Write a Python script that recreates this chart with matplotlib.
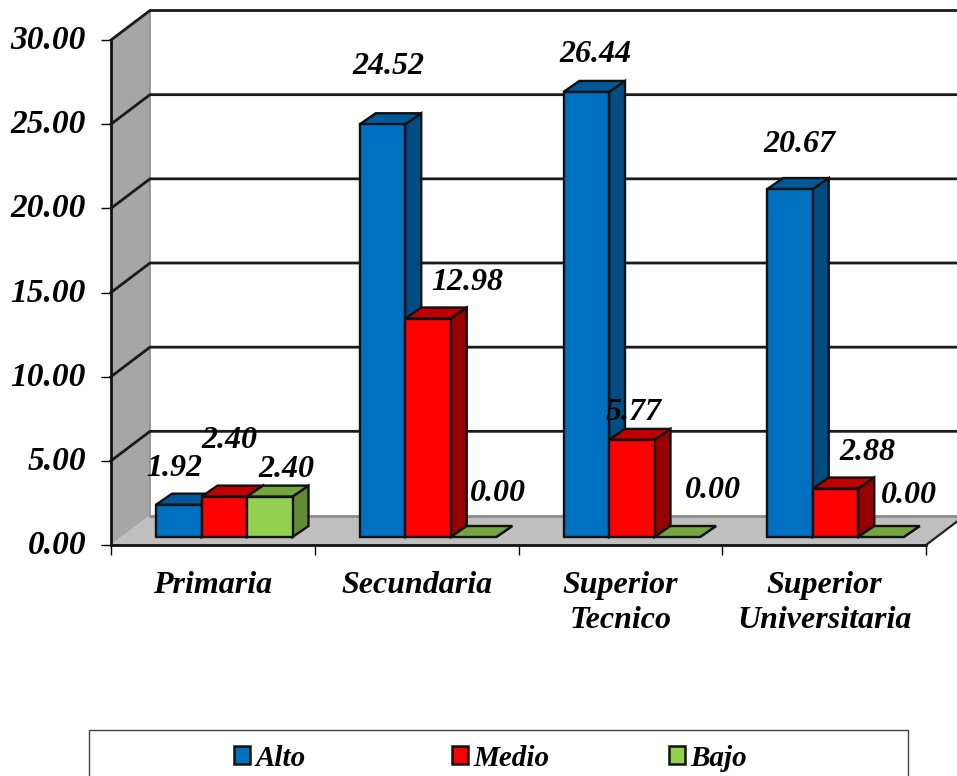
import matplotlib
matplotlib.use('Agg')
import matplotlib.pyplot as plt
from matplotlib.patches import Polygon, Rectangle, Patch
from matplotlib.transforms import ScaledTranslation

categorias = ['Primaria', 'Secundaria', 'Superior\nTecnico', 'Superior\nUniversitaria']
alto = [1.92, 24.52, 26.44, 20.67]
medio = [2.40, 12.98, 5.77, 2.88]
bajo = [2.40, 0.00, 0.00, 0.00]
y_ticks = [0, 5, 10, 15, 20, 25, 30]
nombres = ['Alto', 'Medio', 'Bajo']

# centre of every value label in pixels, same order as the series
pos_alto = [(174, 468), (388, 66), (595, 54), (799, 145)]
pos_medio = [(229, 441), (467, 283), (634, 412), (867, 453)]
pos_bajo = [(286, 470), (498, 494), (713, 490), (909, 496)]
pos_leyenda = [222, 440, 657]

W, H = 957, 776
X0, X1 = 111, 926   # front edge of the floor
Y0, Y30 = 545, 40

plt.rcParams['font.family'] = ['Liberation Serif', 'DejaVu Serif']
plt.rcParams['font.weight'] = 'bold'
plt.rcParams['font.style'] = 'italic'

fig = plt.figure(figsize=(W / 100, H / 100), dpi=100)
ax = fig.add_axes([X0 / W, 1 - Y0 / H, (X1 - X0) / W, (Y0 - Y30) / H])
ax.set_xlim(0, 4)
ax.set_ylim(0, 30)

px_x = 4 / (X1 - X0)      # category units per pixel
px_y = 30 / (Y0 - Y30)    # value units per pixel

# chart box depth
box_dx = 39 * px_x
box_dy = 29.5 * px_y
x_end = (W + 2 - X0) * px_x

# walls and floor
ax.add_patch(Polygon([(0, 0), (box_dx, box_dy), (box_dx, 30 + box_dy), (0, 30)],
                     fc='#a6a6a6', ec='none', clip_on=False, zorder=1))
ax.add_patch(Polygon([(0, 0), (4, 0), (4 + box_dx, box_dy), (box_dx, box_dy)],
                     fc='#bfbfbf', ec='none', clip_on=False, zorder=1))
ax.plot([box_dx, box_dx], [box_dy, 30 + box_dy], color='#8c8c8c', lw=1.2, clip_on=False, zorder=2)
ax.plot([box_dx, x_end], [box_dy, box_dy], color='#8c8c8c', lw=2, clip_on=False, zorder=2)
ax.plot([4, 4 + box_dx], [0, box_dy], color='#222222', lw=1.6, clip_on=False, zorder=2)

for t in y_ticks[1:]:
    ax.plot([0, box_dx, x_end], [t, t + box_dy, t + box_dy], color='#1a1a1a', lw=2,
            clip_on=False, zorder=2, solid_joinstyle='miter')

# bars
bar_ini = 45 * px_x
bar_w = 45.5 * px_x
base = 8 * px_y
dep_x = 16 * px_x
dep_y = 11 * px_y

series = [(alto, '#0070c0', '#005a9a', '#004d84'),
          (medio, '#ff0000', '#c00000', '#990000'),
          (bajo, '#92d050', '#74a63f', '#638a35')]

z = 3
for i in range(len(categorias)):
    for j, (vals, front, top, side) in enumerate(series):
        v = vals[i]
        x = i + bar_ini + j * bar_w
        y = base + v
        kw = dict(ec='#111111', lw=1.7, clip_on=False, zorder=z, joinstyle='miter')
        ax.add_patch(Polygon([(x + bar_w, base), (x + bar_w + dep_x, base + dep_y),
                              (x + bar_w + dep_x, y + dep_y), (x + bar_w, y)], fc=side, **kw))
        ax.add_patch(Polygon([(x, y), (x + bar_w, y), (x + bar_w + dep_x, y + dep_y),
                              (x + dep_x, y + dep_y)], fc=top, **kw))
        if v > 0:
            ax.bar(x, v, bar_w, bottom=base, align='edge', color=front, edgecolor='#111111',
                   linewidth=1.7, zorder=z, clip_on=False)
        z += 1

# axes
for s in ['top', 'right']:
    ax.spines[s].set_visible(False)
for s in ['left', 'bottom']:
    ax.spines[s].set_linewidth(2)
    ax.spines[s].set_color('#111111')
    ax.spines[s].set_zorder(2.5)

ax.set_yticks(y_ticks)
ax.set_yticklabels(['%.2f' % t for t in y_ticks], fontsize=24)
ax.tick_params(axis='y', length=7, width=1, pad=11)
up = ScaledTranslation(0, 3 / 100, fig.dpi_scale_trans)
for lab in ax.get_yticklabels():
    lab.set_transform(lab.get_transform() + up)
ax.set_xticks(range(5))
ax.set_xticklabels([])
ax.set_xticks([i + 0.5 for i in range(4)], minor=True)
ax.set_xticklabels(categorias, minor=True, fontsize=23, linespacing=1.26)
ax.tick_params(axis='x', which='major', length=7, width=1)
ax.tick_params(axis='x', which='minor', length=0, pad=19)

# value labels
for vals, pos in [(alto, pos_alto), (medio, pos_medio), (bajo, pos_bajo)]:
    for v, (px, py) in zip(vals, pos):
        fig.text(px / W, 1 - py / H, '%.2f' % v, fontsize=23, ha='center', va='center', zorder=50)

# legend, one per entry because the gaps in the original are equal from swatch to swatch
fig.add_artist(Rectangle((89 / W, 1 - 790 / H), 819 / W, 60 / H, transform=fig.transFigure,
                         fc='white', ec='#444444', lw=1))
for s, n, px in zip(series, nombres, pos_leyenda):
    h = Patch(fc=s[1], ec='#111111', lw=1.8, label=n)
    fig.legend(handles=[h], frameon=False, loc='center left',
               bbox_to_anchor=(px / W, 1 - 758 / H), fontsize=21, borderaxespad=0,
               handlelength=0.55, handleheight=0.55, handletextpad=0.2)

fig.savefig('out.png', dpi=100)
